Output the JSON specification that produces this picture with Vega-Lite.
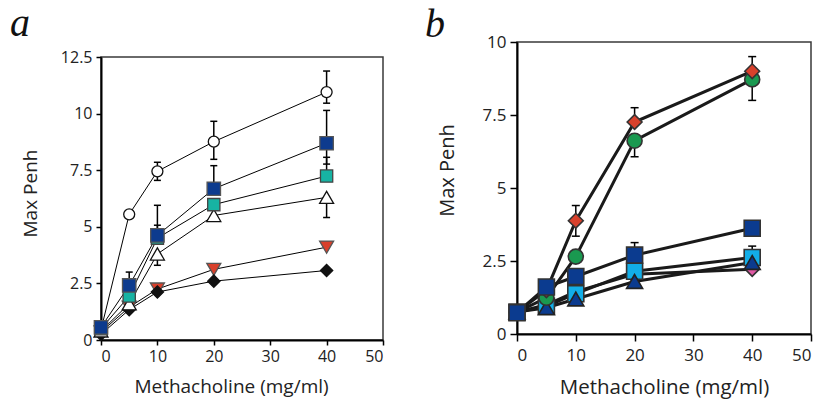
{
  "$schema": "https://vega.github.io/schema/vega-lite/v6.json",
  "padding": {"left": 10, "top": 3, "right": 0, "bottom": 0},
  "background": "white",
  "config": {
    "font": "Open Sans",
    "view": {"stroke": "#3a3a3a", "strokeWidth": 1.5},
    "axis": {"grid": false, "domainColor": "black", "domainWidth": 2, "tickColor": "black", "tickWidth": 1.5, "labelFont": "Open Sans", "labelFontSize": 16, "labelColor": "#222", "titleFont": "Open Sans", "titleFontSize": 19, "titleFontWeight": "normal", "titleColor": "#222"},
    "title": {"font": "Liberation Serif", "fontSize": 40, "fontStyle": "italic", "fontWeight": "normal", "anchor": "start", "frame": "group", "color": "#111", "baseline": "alphabetic"}
  },
  "datasets": {
    "a_pts": [
      {"series": "redTri", "dose": 0, "penh": 0.35}, {"series": "redTri", "dose": 5, "penh": 1.45}, {"series": "redTri", "dose": 10, "penh": 2.25}, {"series": "redTri", "dose": 20, "penh": 3.12}, {"series": "redTri", "dose": 40, "penh": 4.1},
      {"series": "diamond", "dose": 0, "penh": 0.25}, {"series": "diamond", "dose": 5, "penh": 1.34}, {"series": "diamond", "dose": 10, "penh": 2.12}, {"series": "diamond", "dose": 20, "penh": 2.6}, {"series": "diamond", "dose": 40, "penh": 3.07},
      {"series": "circle", "dose": 0, "penh": 0.45}, {"series": "circle", "dose": 5, "penh": 5.55}, {"series": "circle", "dose": 10, "penh": 7.45}, {"series": "circle", "dose": 20, "penh": 8.76}, {"series": "circle", "dose": 40, "penh": 10.95},
      {"series": "openTri", "dose": 0, "penh": 0.4}, {"series": "openTri", "dose": 5, "penh": 1.6}, {"series": "openTri", "dose": 10, "penh": 3.8}, {"series": "openTri", "dose": 20, "penh": 5.5}, {"series": "openTri", "dose": 40, "penh": 6.3},
      {"series": "teal", "dose": 0, "penh": 0.5}, {"series": "teal", "dose": 5, "penh": 1.94}, {"series": "teal", "dose": 10, "penh": 4.5}, {"series": "teal", "dose": 20, "penh": 5.98}, {"series": "teal", "dose": 40, "penh": 7.24},
      {"series": "blueSq", "dose": 0, "penh": 0.56}, {"series": "blueSq", "dose": 5, "penh": 2.41}, {"series": "blueSq", "dose": 10, "penh": 4.62}, {"series": "blueSq", "dose": 20, "penh": 6.68}, {"series": "blueSq", "dose": 40, "penh": 8.69}
    ],
    "a_err": [
      {"dose": 10, "mean": 7.45, "end": 7.85}, {"dose": 10, "mean": 7.45, "end": 7.05},
      {"dose": 20, "mean": 8.76, "end": 9.66}, {"dose": 20, "mean": 8.76, "end": 7.98},
      {"dose": 40, "mean": 10.95, "end": 11.88}, {"dose": 40, "mean": 10.95, "end": 10.46},
      {"dose": 5, "mean": 2.41, "end": 3.0}, {"dose": 10, "mean": 4.62, "end": 5.95},
      {"dose": 20, "mean": 6.68, "end": 7.7}, {"dose": 40, "mean": 8.69, "end": 10.14},
      {"dose": 40, "mean": 8.69, "end": 7.77},
      {"dose": 10, "mean": 4.5, "end": 5.07}, {"dose": 40, "mean": 7.24, "end": 8.07},
      {"dose": 10, "mean": 3.8, "end": 3.3}, {"dose": 40, "mean": 6.3, "end": 5.41}
    ],
    "b_pts": [
      {"series": "pink", "dose": 0, "penh": 0.75}, {"series": "pink", "dose": 5, "penh": 1.0}, {"series": "pink", "dose": 10, "penh": 1.45}, {"series": "pink", "dose": 20, "penh": 2.05}, {"series": "pink", "dose": 40, "penh": 2.22},
      {"series": "lightSq", "dose": 0, "penh": 0.75}, {"series": "lightSq", "dose": 5, "penh": 0.95}, {"series": "lightSq", "dose": 10, "penh": 1.38}, {"series": "lightSq", "dose": 20, "penh": 2.15}, {"series": "lightSq", "dose": 40, "penh": 2.62},
      {"series": "triangle", "dose": 0, "penh": 0.75}, {"series": "triangle", "dose": 5, "penh": 0.9}, {"series": "triangle", "dose": 10, "penh": 1.2}, {"series": "triangle", "dose": 20, "penh": 1.8}, {"series": "triangle", "dose": 40, "penh": 2.45},
      {"series": "green", "dose": 0, "penh": 0.75}, {"series": "green", "dose": 5, "penh": 1.24}, {"series": "green", "dose": 10, "penh": 2.65}, {"series": "green", "dose": 20, "penh": 6.62}, {"series": "green", "dose": 40, "penh": 8.72},
      {"series": "red", "dose": 0, "penh": 0.75}, {"series": "red", "dose": 5, "penh": 1.5}, {"series": "red", "dose": 10, "penh": 3.88}, {"series": "red", "dose": 20, "penh": 7.26}, {"series": "red", "dose": 40, "penh": 9.0},
      {"series": "darkSq", "dose": 0, "penh": 0.73}, {"series": "darkSq", "dose": 5, "penh": 1.61}, {"series": "darkSq", "dose": 10, "penh": 1.97}, {"series": "darkSq", "dose": 20, "penh": 2.7}, {"series": "darkSq", "dose": 40, "penh": 3.62}
    ],
    "b_err": [
      {"dose": 10, "mean": 3.88, "end": 4.4}, {"dose": 10, "mean": 3.88, "end": 3.35},
      {"dose": 20, "mean": 7.26, "end": 7.75}, {"dose": 40, "mean": 9.0, "end": 9.5},
      {"dose": 20, "mean": 6.62, "end": 6.07}, {"dose": 40, "mean": 8.72, "end": 8.0},
      {"dose": 20, "mean": 2.7, "end": 3.13}, {"dose": 40, "mean": 2.62, "end": 3.01}
    ]
  },
  "spacing": 39,
  "resolve": {"scale": {"shape": "independent", "fill": "independent", "stroke": "independent", "size": "independent"}},
  "hconcat": [
    {"vconcat": [
    {
      "width": 282, "height": 6,
      "title": {"text": "a", "dx": -91, "offset": -2},
      "view": {"stroke": null},
      "data": {"values": [{}]},
      "mark": {"type": "rule", "opacity": 0},
      "encoding": {}
    },
    {
      "width": 282, "height": 283,
      "layer": [
        {
          "data": {"name": "a_pts"},
          "mark": {"type": "line", "color": "black", "strokeWidth": 1},
          "encoding": {
            "x": {"field": "dose", "type": "quantitative", "scale": {"domain": [0, 50], "nice": false},
                  "axis": {"values": [0, 10, 20, 30, 40, 50], "title": "Methacholine (mg/ml)", "tickSize": 5, "labelPadding": 3, "titleX": 130, "titleY": 52, "titleBaseline": "alphabetic"}},
            "y": {"field": "penh", "type": "quantitative", "scale": {"domain": [0, 12.5], "nice": false},
                  "axis": {"values": [0, 2.5, 5, 7.5, 10, 12.5], "format": ".1~f", "title": "Max Penh", "tickSize": 5, "labelPadding": 4, "titleX": -65, "titleY": 136, "titleBaseline": "alphabetic"}},
            "detail": {"field": "series"}
          }
        },
        {
          "data": {"name": "a_err"},
          "mark": {"type": "rule", "color": "black", "strokeWidth": 1.5},
          "encoding": {
            "x": {"field": "dose", "type": "quantitative"},
            "y": {"field": "mean", "type": "quantitative"},
            "y2": {"field": "end"}
          }
        },
        {
          "data": {"name": "a_err"},
          "mark": {"type": "tick", "orient": "horizontal", "color": "black", "size": 7, "thickness": 1.5, "opacity": 1},
          "encoding": {
            "x": {"field": "dose", "type": "quantitative"},
            "y": {"field": "end", "type": "quantitative"}
          }
        },
        {
          "data": {"name": "a_pts"},
          "mark": {"type": "point", "filled": true, "opacity": 1, "strokeWidth": 1.3},
          "encoding": {
            "x": {"field": "dose", "type": "quantitative"},
            "y": {"field": "penh", "type": "quantitative"},
            "shape": {"field": "series", "type": "nominal", "legend": null,
                      "scale": {"domain": ["redTri", "diamond", "circle", "openTri", "teal", "blueSq"], "range": ["triangle-down", "diamond", "circle", "triangle-up", "square", "square"]}},
            "fill": {"field": "series", "type": "nominal", "legend": null,
                     "scale": {"domain": ["redTri", "diamond", "circle", "openTri", "teal", "blueSq"], "range": ["#d9402b", "#111111", "#ffffff", "#ffffff", "#17b3a3", "#0d3b8e"]}},
            "stroke": {"field": "series", "type": "nominal", "legend": null,
                       "scale": {"domain": ["redTri", "diamond", "circle", "openTri", "teal", "blueSq"], "range": ["#555555", "#111111", "#111111", "#111111", "#444444", "#555555"]}},
            "size": {"field": "series", "type": "nominal", "legend": null,
                     "scale": {"type": "ordinal", "domain": ["redTri", "diamond", "circle", "openTri", "teal", "blueSq"], "range": [196, 150, 121, 196, 150, 180]}}
          }
        }
      ]
    }], "spacing": 0},
    {
      "width": 294, "height": 292,
      "title": {"text": "b", "dx": -92, "offset": -12},
      "layer": [
        {
          "data": {"name": "b_pts"},
          "mark": {"type": "line", "color": "#1a1a1a", "strokeWidth": 3},
          "encoding": {
            "x": {"field": "dose", "type": "quantitative", "scale": {"domain": [0, 50], "nice": false},
                  "axis": {"values": [0, 10, 20, 30, 40, 50], "title": "Methacholine (mg/ml)", "labelFontSize": 17, "titleFontSize": 20.5, "tickSize": 7, "labelPadding": 6, "titleY": 59, "titleBaseline": "alphabetic"}},
            "y": {"field": "penh", "type": "quantitative", "scale": {"domain": [0, 10], "nice": false},
                  "axis": {"values": [0, 2.5, 5, 7.5, 10], "format": ".1~f", "title": "Max Penh", "labelFontSize": 17, "titleFontSize": 20, "tickSize": 7, "labelPadding": 4, "titleX": -64, "titleY": 128, "titleBaseline": "alphabetic"}},
            "detail": {"field": "series"}
          }
        },
        {
          "data": {"name": "b_err"},
          "mark": {"type": "rule", "color": "black", "strokeWidth": 1.5},
          "encoding": {
            "x": {"field": "dose", "type": "quantitative"},
            "y": {"field": "mean", "type": "quantitative"},
            "y2": {"field": "end"}
          }
        },
        {
          "data": {"name": "b_err"},
          "mark": {"type": "tick", "orient": "horizontal", "color": "black", "size": 8, "thickness": 1.5, "opacity": 1},
          "encoding": {
            "x": {"field": "dose", "type": "quantitative"},
            "y": {"field": "end", "type": "quantitative"}
          }
        },
        {
          "data": {"name": "b_pts"},
          "mark": {"type": "point", "filled": true, "opacity": 1, "strokeWidth": 1.6},
          "encoding": {
            "x": {"field": "dose", "type": "quantitative"},
            "y": {"field": "penh", "type": "quantitative"},
            "shape": {"field": "series", "type": "nominal", "legend": null,
                      "scale": {"domain": ["pink", "lightSq", "triangle", "green", "red", "darkSq"], "range": ["diamond", "square", "triangle-up", "circle", "diamond", "square"]}},
            "fill": {"field": "series", "type": "nominal", "legend": null,
                     "scale": {"domain": ["pink", "lightSq", "triangle", "green", "red", "darkSq"], "range": ["#e15aa5", "#12aee8", "#0b3b8f", "#1a9950", "#d8412c", "#0b3b8f"]}},
            "stroke": {"field": "series", "type": "nominal", "legend": null,
                       "scale": {"domain": ["pink", "lightSq", "triangle", "green", "red", "darkSq"], "range": ["#333333", "#333333", "#222222", "#333333", "#333333", "#333333"]}},
            "size": {"field": "series", "type": "nominal", "legend": null,
                     "scale": {"type": "ordinal", "domain": ["pink", "lightSq", "triangle", "green", "red", "darkSq"], "range": [200, 256, 256, 225, 220, 256]}}
          }
        }
      ]
    }
  ]
}
